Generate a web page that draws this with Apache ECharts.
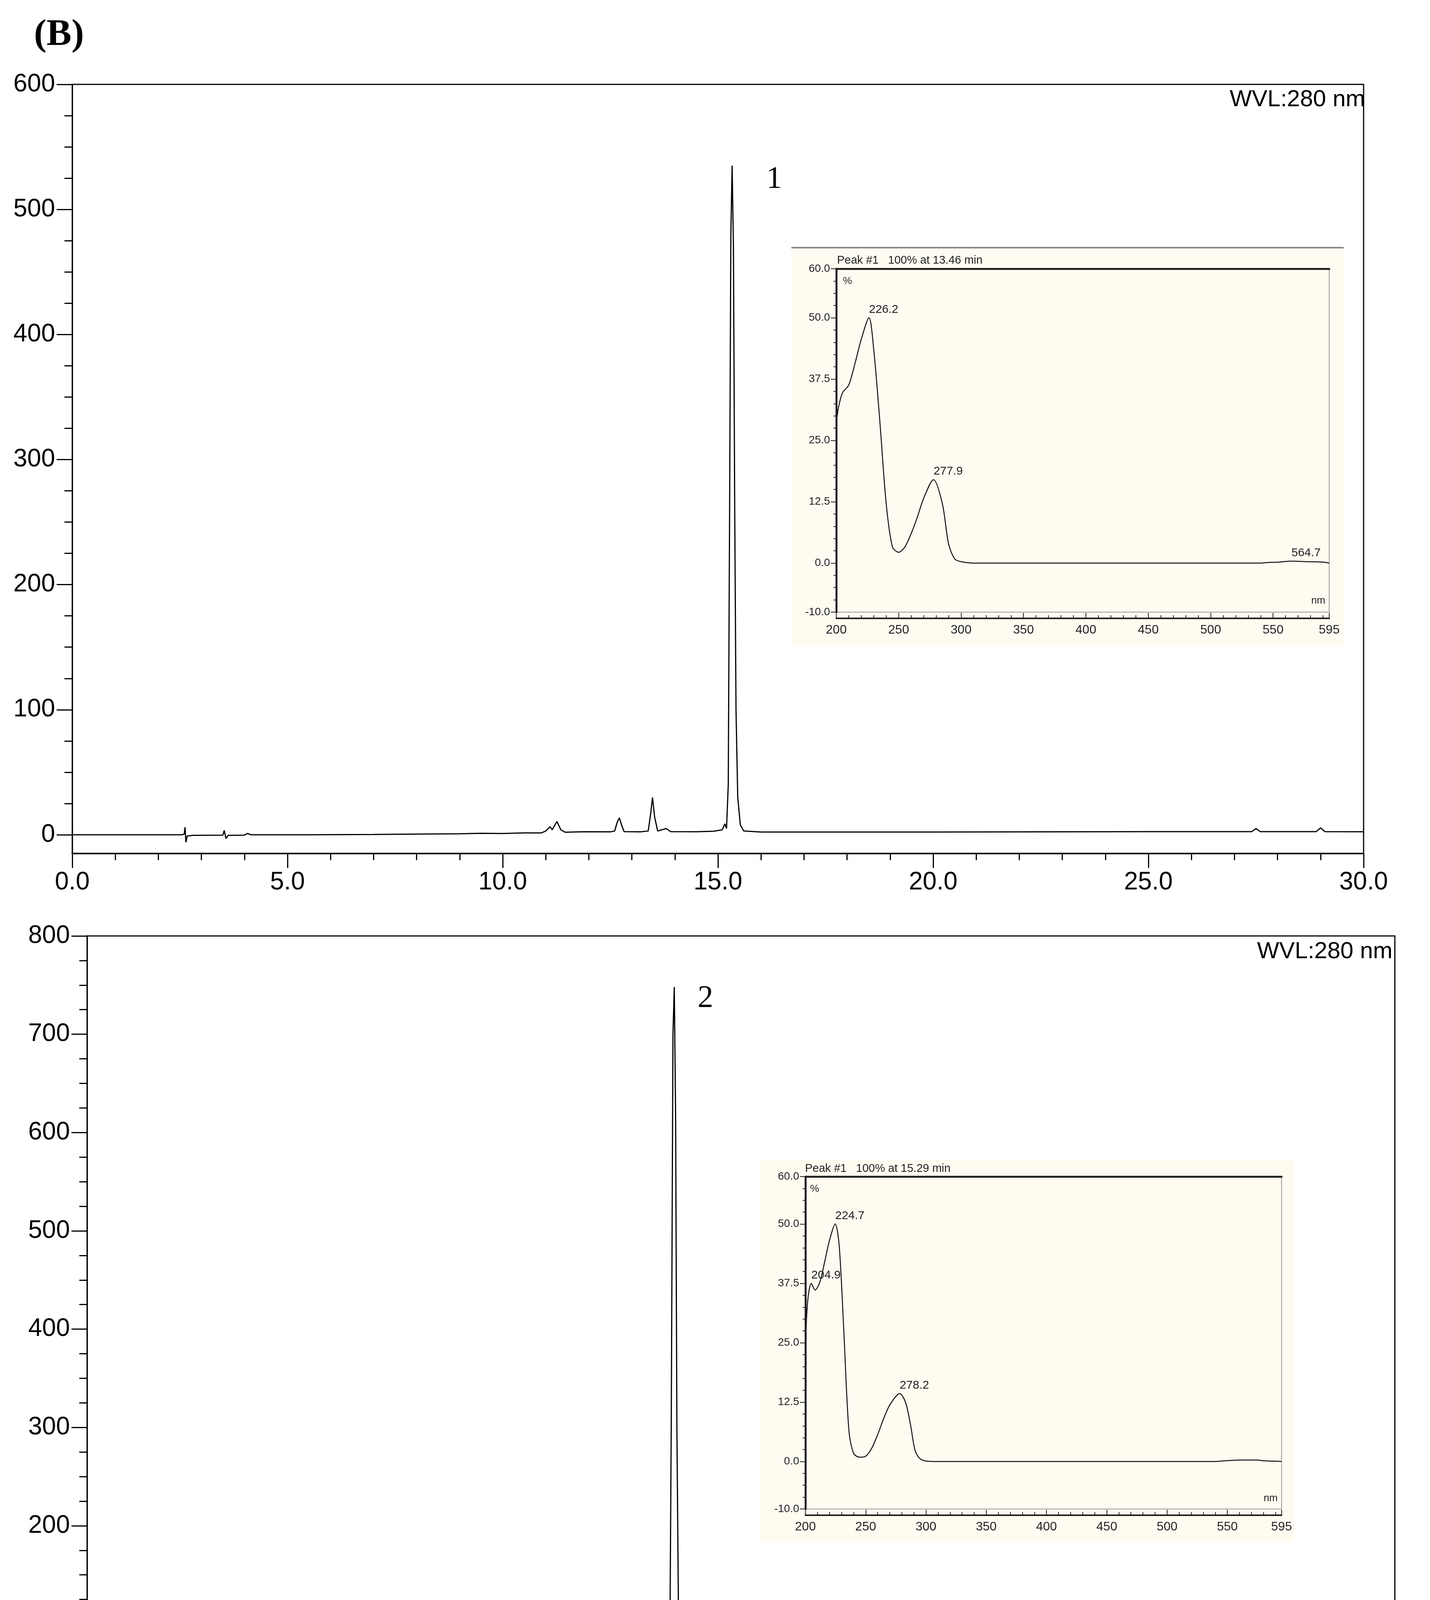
<!DOCTYPE html>
<html><head><meta charset="utf-8">
<script src="https://cdn.jsdelivr.net/npm/echarts@6/dist/echarts.min.js"></script>
<style>html,body{margin:0;padding:0;background:#fff}#c{width:3661px;height:4593px}</style>
</head><body><div id="c"></div>
<script>
// Chromatogram 1 (top), [time min, mAU]
const chrom1 = [[0,0],[2.55,0],[2.6,0.5],[2.62,6],[2.64,-6],[2.67,-1],[2.8,-0.5],[3.5,-0.3],[3.53,3.5],[3.57,-3],[3.62,-0.5],[4.0,-0.3],[4.07,1],[4.15,0],[5.5,0],[7,0.2],[8,0.5],[9,0.8],[9.5,1.2],[10,1],[10.5,1.5],[10.9,1.5],[11.0,3],[11.1,6.4],[11.15,4],[11.26,10.6],[11.35,4],[11.45,2],[11.8,2.3],[12,2.4],[12.5,2.3],[12.6,3],[12.66,10],[12.71,13.5],[12.76,8],[12.82,2.5],[13.2,2.3],[13.38,3],[13.43,15],[13.48,29.8],[13.53,14],[13.6,3],[13.8,5],[13.9,2.5],[14.5,2.4],[14.9,2.8],[15.1,4],[15.16,8.7],[15.2,5],[15.24,40],[15.27,250],[15.3,480],[15.33,535],[15.36,470],[15.39,260],[15.42,100],[15.46,30],[15.52,8],[15.6,3],[16,2.2],[20,2.2],[25,2.5],[27.4,2.5],[27.5,5],[27.6,2.5],[28.9,2.5],[29.0,5.5],[29.1,2.5],[30,2.4]];
// Chromatogram 2 (bottom)
const chrom2 = [[0,0],[2.55,0],[2.6,0.5],[2.62,6],[2.65,-5.6],[2.7,-1],[2.8,-0.6],[3.5,-0.5],[3.54,3],[3.58,-3.5],[3.63,0],[5,0],[7.8,0.2],[7.85,1],[7.91,3.3],[7.98,0.5],[8.5,0.3],[10,0.8],[10.85,1],[10.92,3],[10.97,5.3],[11.03,1.5],[11.3,1.5],[11.47,5.3],[11.6,2],[12,1.3],[12.8,1.5],[12.9,2.4],[13.0,1.5],[13.3,1.6],[13.36,20],[13.4,300],[13.44,700],[13.47,748],[13.5,620],[13.53,300],[13.57,90],[13.62,25],[13.7,6],[13.85,2],[14.5,1],[15.15,1.2],[15.22,5],[15.28,11.5],[15.35,5],[15.45,1.2],[20,1.2],[23.05,1.2],[23.12,3],[23.2,1.2],[27.4,1.3],[27.5,3],[27.6,1.3],[28.9,1.3],[29.0,3.5],[29.1,1.3],[30,1.3]];
// UV spectra [nm, %]
const spec1 = [[200,28.6],[202,32],[205,34.7],[210,36.3],[215,40.7],[220,45.6],[226.2,50],[230,43.5],[235,28.6],[240,12.1],[245,3.3],[250,2.2],[255,3.3],[260,6],[265,9.4],[270,13.2],[277.9,17],[285,12.1],[290,3.9],[295,0.8],[300,0.3],[310,0],[540,0],[545,0.1],[555,0.2],[564.7,0.4],[575,0.3],[590,0.2],[595,0]];
const spec2 = [[200,24.5],[202,34.1],[204.9,37.5],[208,36.1],[212,37.8],[216,42.1],[220,46.6],[224.7,50],[228,45.5],[232,26.7],[236,6.8],[240,1.7],[245,0.9],[250,1.1],[255,2.8],[260,5.7],[265,9.1],[270,11.9],[278.2,14.3],[283,12.5],[287,8],[291,2.3],[295,0.6],[300,0.1],[310,0],[540,0],[545,0.1],[560,0.3],[575,0.3],[580,0.15],[595,0]];
const peaks1 = [226.2, 277.9, 564.7];
const peaks2 = [204.9, 224.7, 278.2];
const yTicksTop = [0,100,200,300,400,500,600];
const yTicksBot = [0,100,200,300,400,500,600,700,800];
const insetYTicks = [-10,0,12.5,25,37.5,50,60];
const insetXTicks = [200,250,300,350,400,450,500,550,595];
const title1 = 'Peak #1   100% at 13.46 min';
const title2 = 'Peak #1   100% at 15.29 min';

function range(a,b,s){const r=[];for(let v=a;v<=b+1e-9;v+=s)r.push(+v.toFixed(3));return r;}
function marks(data,peaks){return {symbol:'circle',symbolSize:0.1,silent:true,
  label:{show:true,position:'top',align:'left',distance:6,fontSize:30,fontFamily:'Liberation Sans',color:'#222',formatter:p=>p.data.name},
  data:data.filter(p=>peaks.indexOf(p[0])>=0).map(p=>({coord:p,name:String(p[0])}))};}
const F='Liberation Sans';
const chart = echarts.init(document.getElementById('c'));
function mainX(grid){return {type:'value',gridIndex:grid,min:0,max:30,interval:5,
  axisLine:{show:true,onZero:false,lineStyle:{color:'#000',width:4}},
  axisTick:{show:true,length:37,lineStyle:{color:'#000',width:3}},
  minorTick:{show:true,splitNumber:5,length:17,lineStyle:{color:'#000',width:3}},
  axisLabel:{fontSize:64,fontFamily:F,color:'#000',margin:42,formatter:v=>v.toFixed(1)},splitLine:{show:false}};}
function mainY(grid,min,max,ticks){return [{type:'value',gridIndex:grid,position:'left',min:min,max:max,
  axisLine:{show:true,onZero:false,lineStyle:{color:'#000',width:3}},
  axisTick:{show:true,length:40,customValues:ticks,lineStyle:{color:'#000',width:3}},
  axisLabel:{fontSize:64,fontFamily:F,color:'#000',margin:44,customValues:ticks},splitLine:{show:false}},
 {type:'value',gridIndex:grid,position:'left',min:min,max:max,axisLine:{show:false,onZero:false},
  axisTick:{show:true,length:20,customValues:range(0,max,25),lineStyle:{color:'#000',width:3}},
  axisLabel:{show:false},splitLine:{show:false}}];}
function insetX(grid){return [{type:'value',gridIndex:grid,position:'bottom',min:200,max:595,offset:16,
  axisLine:{show:true,onZero:false,lineStyle:{color:'#222',width:4}},
  axisTick:{show:true,inside:true,length:14,customValues:insetXTicks,lineStyle:{color:'#222',width:2}},
  axisLabel:{fontSize:32,fontFamily:F,color:'#222',margin:14,customValues:insetXTicks},splitLine:{show:false}},
 {type:'value',gridIndex:grid,position:'bottom',min:200,max:595,offset:16,axisLine:{show:false,onZero:false},
  axisTick:{show:true,inside:true,length:8,customValues:range(200,590,10),lineStyle:{color:'#222',width:2}},
  axisLabel:{show:false},splitLine:{show:false}},
 {type:'value',gridIndex:grid,min:200,max:595,position:'top',axisLine:{show:true,onZero:false,lineStyle:{color:'#222',width:5}},
  axisTick:{show:false},axisLabel:{show:false},splitLine:{show:false}}];}
function insetY(grid){return [{type:'value',gridIndex:grid,position:'left',min:-10,max:60,
  axisLine:{show:true,onZero:false,lineStyle:{color:'#222',width:5}},
  axisTick:{show:true,length:14,customValues:insetYTicks,lineStyle:{color:'#222',width:2}},
  axisLabel:{fontSize:28,fontFamily:F,color:'#222',margin:16,customValues:insetYTicks,formatter:v=>v.toFixed(1)},splitLine:{show:false}},
 {type:'value',gridIndex:grid,position:'left',min:-10,max:60,axisLine:{show:false,onZero:false},
  axisTick:{show:true,length:7,customValues:range(-10,60,2.5),lineStyle:{color:'#222',width:2}},
  axisLabel:{show:false},splitLine:{show:false}}];}
const ix1=insetX(2), ix2=insetX(3);
const option = {
  backgroundColor:'#fff', animation:false,
  grid:[
    {left:185,top:216,width:3306,height:1969,show:true,borderColor:'#000',borderWidth:3},
    {left:223,top:2396,width:3348,height:2061,show:true,borderColor:'#000',borderWidth:3},
    {left:2141,top:688,width:1262,height:879,show:true,borderColor:'#999',borderWidth:2},
    {left:2062,top:3012,width:1219,height:851,show:true,borderColor:'#999',borderWidth:2}
  ],
  xAxis:[mainX(0),mainX(1),ix1[0],ix1[1],ix2[0],ix2[1],ix1[2],ix2[2]],
  yAxis:[...mainY(0,-15,600,yTicksTop),...mainY(1,-19,800,yTicksBot),...insetY(2),...insetY(3)],
  series:[
    {type:'line',xAxisIndex:0,yAxisIndex:0,data:chrom1,showSymbol:false,lineStyle:{color:'#000',width:3},z:5},
    {type:'line',xAxisIndex:1,yAxisIndex:2,data:chrom2,showSymbol:false,lineStyle:{color:'#000',width:3},z:5},
    {type:'line',xAxisIndex:2,yAxisIndex:4,data:spec1,smooth:0.3,showSymbol:false,lineStyle:{color:'#111',width:2.5},z:5,markPoint:marks(spec1,peaks1)},
    {type:'line',xAxisIndex:4,yAxisIndex:6,data:spec2,smooth:0.3,showSymbol:false,lineStyle:{color:'#111',width:2.5},z:5,markPoint:marks(spec2,peaks2)}
  ],
  graphic:{elements:[
    {type:'rect',z:-10,shape:{x:2026,y:634,width:1414,height:1020},style:{fill:'#fffbf0'}},
    {type:'line',z:-9,shape:{x1:2026,y1:634,x2:3440,y2:634},style:{stroke:'#888',lineWidth:4}},
    {type:'rect',z:-10,shape:{x:1946,y:2969,width:1367,height:978},style:{fill:'#fffbf0'}},
    {type:'text',x:87,y:90,style:{text:'(B)',font:'bold 96px "Liberation Serif"',fill:'#000',verticalAlign:'middle'}},
    {type:'text',x:3495,y:255,style:{text:'WVL:280 nm',font:'60px "Liberation Sans"',fill:'#000',align:'right',verticalAlign:'middle'}},
    {type:'text',x:3565,y:2436,style:{text:'WVL:280 nm',font:'60px "Liberation Sans"',fill:'#000',align:'right',verticalAlign:'middle'}},
    {type:'text',x:1962,y:460,style:{text:'1',font:'80px "Liberation Serif"',fill:'#000',verticalAlign:'middle'}},
    {type:'text',x:1786,y:2557,style:{text:'2',font:'80px "Liberation Serif"',fill:'#000',verticalAlign:'middle'}},
    {type:'text',x:2143,y:667,style:{text:title1,font:'29px "Liberation Sans"',fill:'#222',verticalAlign:'middle'}},
    {type:'text',x:2158,y:720,style:{text:'%',font:'26px "Liberation Sans"',fill:'#222',verticalAlign:'middle'}},
    {type:'text',x:3393,y:1538,style:{text:'nm',font:'26px "Liberation Sans"',fill:'#222',align:'right',verticalAlign:'middle'}},
    {type:'text',x:2061,y:2992,style:{text:title2,font:'29px "Liberation Sans"',fill:'#222',verticalAlign:'middle'}},
    {type:'text',x:2074,y:3044,style:{text:'%',font:'26px "Liberation Sans"',fill:'#222',verticalAlign:'middle'}},
    {type:'text',x:3271,y:3836,style:{text:'nm',font:'26px "Liberation Sans"',fill:'#222',align:'right',verticalAlign:'middle'}}
  ]}
};
chart.setOption(option);
</script></body></html>
